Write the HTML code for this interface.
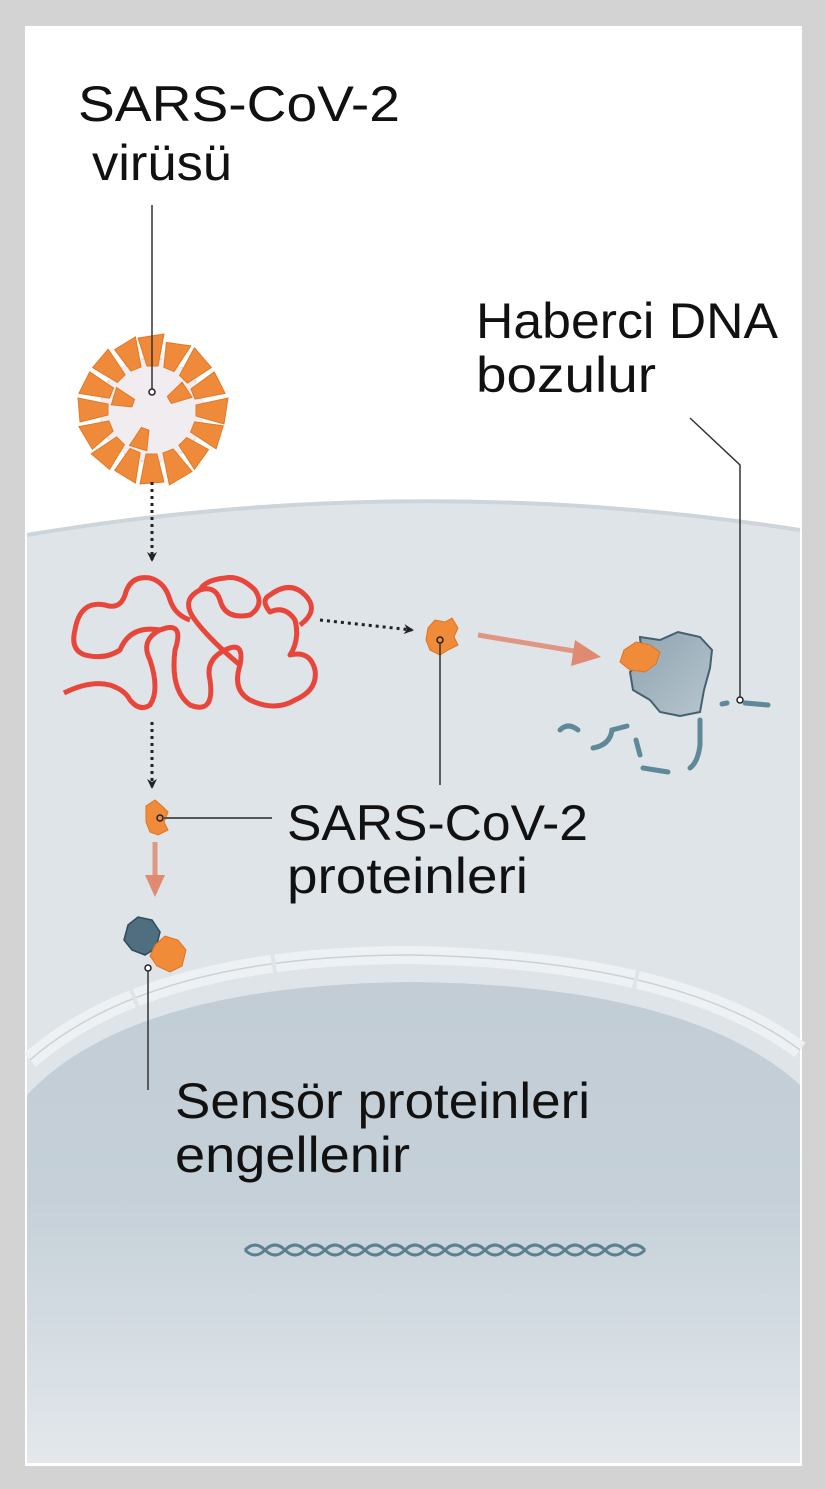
<!DOCTYPE html>
<html><head><meta charset="utf-8"><style>
html,body{margin:0;padding:0;background:#d3d3d3;}
svg{display:block;}
text{font-family:"Liberation Sans",Arial,sans-serif;fill:#111;}
</style></head><body>
<svg width="825" height="1489" viewBox="0 0 825 1489" xmlns="http://www.w3.org/2000/svg">
<defs>
<linearGradient id="nuc" x1="0" y1="0" x2="0" y2="1">
<stop offset="0" stop-color="#c2cdd5"/><stop offset="0.45" stop-color="#c5d0d8"/><stop offset="1" stop-color="#e3e8ec"/>
</linearGradient>
<linearGradient id="rib" x1="0" y1="0" x2="1" y2="1">
<stop offset="0" stop-color="#8ea3af"/><stop offset="1" stop-color="#b7c6cf"/>
</linearGradient>
<marker id="ab" markerWidth="10" markerHeight="10" refX="8" refY="5" orient="auto" markerUnits="userSpaceOnUse">
<path d="M0,0 L10,5 L0,10 L3,5 Z" fill="#222"/></marker>
</defs>
<rect width="825" height="1489" fill="#d3d3d3"/>
<rect x="25" y="26" width="777" height="1440" fill="#fff"/>
<path d="M27,535 Q412,470 800,530 L800,1463 L27,1463 Z" fill="#dfe4e9"/>
<path d="M27,535 Q412,470 800,530" fill="none" stroke="#cdd5db" stroke-width="4"/>
<path d="M27,1095 Q130,985 412,982 Q690,985 800,1085 L800,1463 L27,1463 Z" fill="url(#nuc)"/>
<path d="M30,1060 Q150,955 412,955 Q680,960 800,1050" fill="none" stroke="#eef1f3" stroke-width="18"/>
<path d="M30,1060 Q150,955 412,955 Q680,960 800,1050" fill="none" stroke="#c9d2d8" stroke-width="1.5"/>
<path d="M30,1060 Q150,955 412,955 Q680,960 800,1050" fill="none" stroke="#dfe4e9" stroke-width="20" stroke-dasharray="4 140 4 360 4 400" stroke-dashoffset="-120"/>
<text x="78" y="121" font-size="50" textLength="322" lengthAdjust="spacingAndGlyphs">SARS-CoV-2</text>
<text x="92" y="180" font-size="50" textLength="140" lengthAdjust="spacingAndGlyphs">virüsü</text>
<text x="476" y="338" font-size="50" textLength="302" lengthAdjust="spacingAndGlyphs">Haberci DNA</text>
<text x="476" y="392" font-size="50" textLength="180" lengthAdjust="spacingAndGlyphs">bozulur</text>
<text x="287" y="840" font-size="50" textLength="301" lengthAdjust="spacingAndGlyphs">SARS-CoV-2</text>
<text x="287" y="893" font-size="50" textLength="241" lengthAdjust="spacingAndGlyphs">proteinleri</text>
<text x="175" y="1118" font-size="50" textLength="415" lengthAdjust="spacingAndGlyphs">Sensör proteinleri</text>
<text x="175" y="1172" font-size="50" textLength="235" lengthAdjust="spacingAndGlyphs">engellenir</text>
<g transform="translate(152,410)">
<circle r="52" fill="#f1ecef"/>
<circle r="52" fill="none" stroke="#e2d9de" stroke-width="2" stroke-dasharray="3 3"/>
<g fill="#ee8a3a" stroke="#e27a26" stroke-width="1">
<path d="M-5,-44 L-14,-72 L12,-76 L6,-44 Z"/>
<path d="M-5,-44 L-12,-68 L12,-74 L6,-44 Z" transform="rotate(22)"/>
<path d="M-5,-44 L-14,-74 L12,-72 L6,-44 Z" transform="rotate(45)"/>
<path d="M-5,-44 L-12,-72 L12,-74 L6,-44 Z" transform="rotate(68)"/>
<path d="M-5,-44 L-12,-76 L14,-72 L6,-44 Z" transform="rotate(90)"/>
<path d="M-5,-44 L-12,-72 L12,-74 L6,-44 Z" transform="rotate(112)"/>
<path d="M-5,-44 L-12,-68 L12,-72 L6,-44 Z" transform="rotate(135)"/>
<path d="M-5,-44 L-14,-72 L12,-76 L6,-44 Z" transform="rotate(158)"/>
<path d="M-5,-44 L-12,-72 L12,-74 L6,-44 Z" transform="rotate(180)"/>
<path d="M-5,-44 L-12,-74 L12,-70 L6,-44 Z" transform="rotate(202)"/>
<path d="M-5,-44 L-12,-72 L12,-74 L6,-44 Z" transform="rotate(225)"/>
<path d="M-5,-44 L-14,-70 L12,-74 L6,-44 Z" transform="rotate(248)"/>
<path d="M-5,-44 L-12,-72 L12,-74 L6,-44 Z" transform="rotate(270)"/>
<path d="M-5,-44 L-12,-74 L12,-72 L6,-44 Z" transform="rotate(292)"/>
<path d="M-5,-44 L-12,-72 L12,-74 L6,-44 Z" transform="rotate(315)"/>
<path d="M-5,-44 L-12,-70 L12,-74 L6,-44 Z" transform="rotate(338)"/>
<path d="M-4,-20 L-9,-40 L9,-41 L4,-20 Z" transform="rotate(60)"/>
<path d="M-4,-20 L-9,-40 L9,-41 L4,-20 Z" transform="rotate(200)"/>
<path d="M-4,-20 L-9,-40 L9,-41 L4,-20 Z" transform="rotate(290)"/>
</g>
</g>
<line x1="152" y1="205" x2="152" y2="389" stroke="#333" stroke-width="1.5"/>
<circle cx="152" cy="392" r="3" fill="#fff" stroke="#222" stroke-width="1.5"/>
<line x1="152" y1="482" x2="152" y2="560" stroke="#222" stroke-width="3" stroke-dasharray="3 4" marker-end="url(#ab)"/>
<line x1="152" y1="722" x2="152" y2="787" stroke="#222" stroke-width="3" stroke-dasharray="3 4" marker-end="url(#ab)"/>
<line x1="320" y1="620" x2="412" y2="630" stroke="#222" stroke-width="3" stroke-dasharray="3 4" marker-end="url(#ab)"/>
<path d="M64,693 Q90,680 110,685 Q125,690 130,700 Q140,712 150,705 Q160,690 150,660 Q140,640 160,630 Q185,620 175,650 Q170,690 190,705 Q215,715 210,680 Q205,660 225,650 Q245,640 240,665 Q232,690 250,700 Q275,712 295,700 Q318,690 315,670 Q310,650 290,655 Q300,640 295,620 Q285,605 270,612 Q260,600 270,595 Q290,580 305,595 Q320,610 300,625 M240,665 Q210,640 195,620 Q180,600 200,590 Q215,585 220,600 Q225,620 250,615 Q265,605 255,590 Q240,575 225,578 Q205,580 200,590 M160,630 Q130,625 120,650 Q105,660 85,655 Q70,650 75,630 Q80,600 105,605 Q120,610 125,595 Q130,575 150,578 Q165,582 170,600 Q175,615 190,620" fill="none" stroke="#e8463a" stroke-width="5" stroke-linejoin="round"/>
<path d="M428,628 L435,620 L445,622 L452,618 L458,628 L454,637 L458,645 L448,650 L440,655 L430,650 L426,640 Z" fill="#f08b3a" stroke="#e07422" stroke-width="1"/>
<circle cx="440" cy="640" r="3" fill="#f08b3a" stroke="#222" stroke-width="1.5"/>
<line x1="440" y1="643" x2="440" y2="785" stroke="#333" stroke-width="1.5"/>
<path d="M478,635 L580,652" stroke="#e08a72" stroke-width="5" opacity="0.85"/>
<path d="M575,640 L601,657 L571,666 Z" fill="#e08a72"/>
<path d="M640,637 L660,640 L678,632 L700,637 L712,650 L710,668 L704,690 L700,712 L680,716 L660,712 L650,700 L633,690 L630,672 L642,660 Z" fill="url(#rib)" stroke="#45606e" stroke-width="2"/>
<path d="M624,650 L636,642 L650,645 L660,652 L656,664 L645,672 L630,670 L620,662 Z" fill="#f08b3a" stroke="#e07422" stroke-width="1"/>
<path d="M690,418 L740,465 L740,697" fill="none" stroke="#333" stroke-width="1.5"/>
<circle cx="740" cy="700" r="3" fill="#fff" stroke="#222" stroke-width="1.5"/>
<g stroke="#5f8898" stroke-width="5" fill="none" stroke-linecap="round">
<path d="M722,704 L727,703"/><path d="M745,703 L768,705"/>
<path d="M560,730 Q568,722 578,730"/>
<path d="M593,748 Q610,745 612,730 L627,726"/>
<path d="M636,740 L640,755 M643,768 L668,772"/>
<path d="M700,720 L700,745 Q698,762 690,768"/>
</g>
<path d="M146,806 L155,800 L162,806 L168,812 L164,822 L168,830 L158,835 L150,832 L146,822 Z" fill="#f08b3a" stroke="#e07422" stroke-width="1"/>
<circle cx="160" cy="818" r="3" fill="#f08b3a" stroke="#222" stroke-width="1.5"/>
<line x1="163" y1="818" x2="272" y2="818" stroke="#555" stroke-width="2"/>
<line x1="155" y1="842" x2="155" y2="880" stroke="#e08a72" stroke-width="5" opacity="0.85"/>
<path d="M145,875 L155,897 L165,875 Z" fill="#e08a72"/>
<path d="M128,925 L138,917 L152,920 L160,932 L156,948 L145,955 L132,950 L124,940 Z" fill="#4f6e80" stroke="#2f4a5a" stroke-width="1.5"/>
<path d="M155,945 L165,936 L178,940 L186,950 L182,966 L170,972 L157,966 L150,956 Z" fill="#f08b3a" stroke="#e07422" stroke-width="1"/>
<circle cx="148" cy="968" r="3" fill="#fff" stroke="#222" stroke-width="1.5"/>
<line x1="148" y1="971" x2="148" y2="1090" stroke="#333" stroke-width="1.5"/>
<g fill="none" stroke="#4f7888" stroke-width="3" opacity="0.9">
<path d="M245,1250 q10,-10 20,0 t20,0 t20,0 t20,0 t20,0 t20,0 t20,0 t20,0 t20,0 t20,0 t20,0 t20,0 t20,0 t20,0 t20,0 t20,0 t20,0 t20,0 t20,0 t20,0"/>
<path d="M245,1250 q10,10 20,0 t20,0 t20,0 t20,0 t20,0 t20,0 t20,0 t20,0 t20,0 t20,0 t20,0 t20,0 t20,0 t20,0 t20,0 t20,0 t20,0 t20,0 t20,0 t20,0"/>
</g>
</svg>
</body></html>
